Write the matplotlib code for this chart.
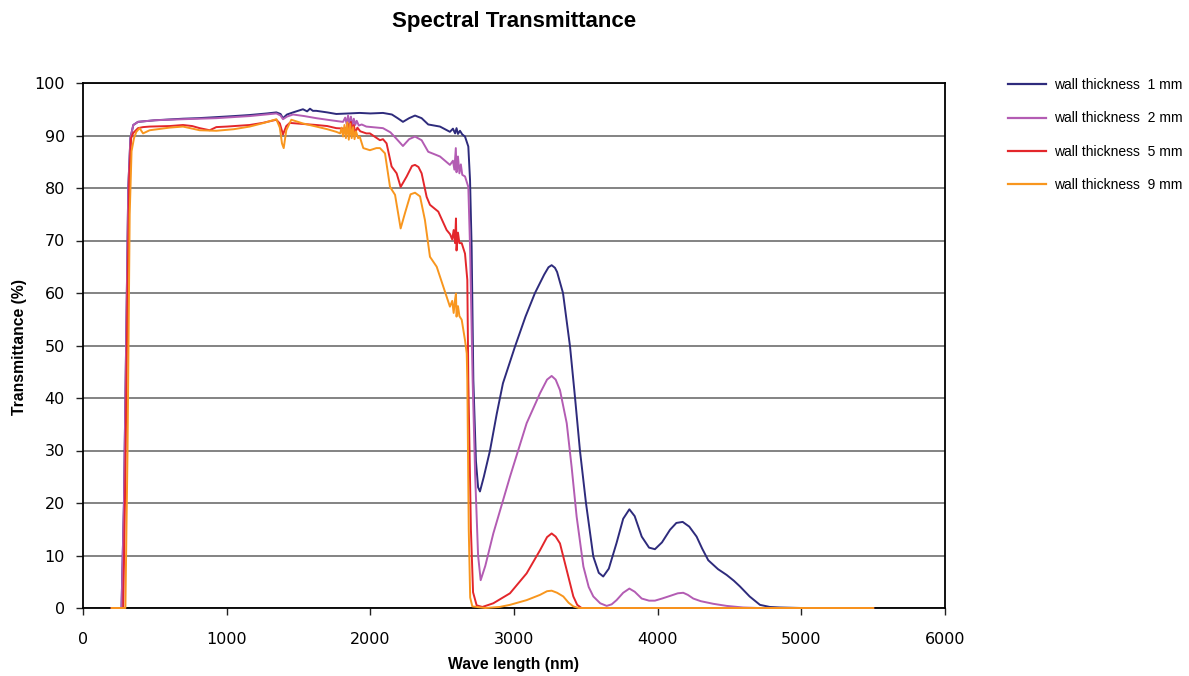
import matplotlib
matplotlib.use("Agg")
import matplotlib.pyplot as plt

# ---------------- data ----------------
series_labels = ["wall thickness  1 mm", "wall thickness  2 mm",
                 "wall thickness  5 mm", "wall thickness  9 mm"]
series_colors = ["#2e2b7c", "#b35cb3", "#e3262b", "#f8961e"]

wl_1mm = [200, 268, 285, 300, 315, 330, 350, 383, 500, 696, 800, 928, 1050, 1160, 1280, 1346,
          1375, 1392, 1420, 1462, 1531, 1560, 1580, 1600, 1624, 1700, 1763, 1850, 1926, 2000,
          2088, 2150, 2190, 2227, 2270, 2311, 2357, 2403, 2485, 2554, 2575, 2590, 2600, 2610,
          2624, 2640, 2659, 2682, 2694, 2705, 2717, 2735, 2750, 2763, 2790, 2833, 2880, 2923,
          3007, 3080, 3146, 3210, 3240, 3262, 3285, 3300, 3341, 3390, 3424, 3459, 3501, 3552,
          3590, 3621, 3660, 3714, 3760, 3803, 3840, 3889, 3940, 3981, 4030, 4086, 4130, 4174,
          4220, 4271, 4310, 4352, 4420, 4480, 4530, 4573, 4640, 4712, 4780, 4851, 5000, 5500]
t_1mm = [0, 0, 20, 50, 80, 89.5, 92, 92.6, 92.9, 93.2, 93.3, 93.5, 93.7, 93.9, 94.2, 94.4,
         94.1, 93.3, 94.0, 94.4, 95.0, 94.6, 95.1, 94.7, 94.7, 94.4, 94.1, 94.2, 94.3, 94.2,
         94.3, 94.0, 93.3, 92.6, 93.3, 93.8, 93.3, 92.1, 91.7, 90.7, 91.3, 90.4, 91.4, 90.3,
         90.9, 90.2, 89.8, 87.9, 81.5, 68.8, 43.4, 28, 23, 22.2, 25, 30, 37, 42.8,
         49.8, 55.5, 60, 63.5, 64.9, 65.3, 64.8, 64, 60, 49.8, 40.3, 30, 20, 9.8,
         6.7, 6.0, 7.5, 12.4, 17, 18.8, 17.5, 13.6, 11.5, 11.2, 12.5, 14.9, 16.2, 16.4,
         15.5, 13.6, 11.3, 9.1, 7.4, 6.3, 5.2, 4.1, 2.2, 0.6, 0.2, 0.1, 0, 0]

wl_2mm = [200, 268, 285, 300, 315, 330, 350, 383, 500, 696, 928, 1160, 1346, 1375, 1392, 1420,
          1462, 1540, 1624, 1700, 1780, 1810, 1825, 1835, 1845, 1855, 1865, 1875, 1885, 1895,
          1905, 1920, 1940, 1972, 2088, 2140, 2181, 2227, 2270, 2311, 2357, 2403, 2440, 2485,
          2554, 2575, 2585, 2595, 2600, 2610, 2620, 2630, 2640, 2659, 2682, 2694, 2712, 2730,
          2750, 2768, 2800, 2856, 2972, 3088, 3181, 3230, 3262, 3290, 3320, 3367, 3401, 3436,
          3483, 3520, 3552, 3600, 3645, 3680, 3714, 3760, 3803, 3840, 3889, 3940, 3981, 4030,
          4086, 4140, 4178, 4210, 4248, 4300, 4387, 4480, 4594, 4700, 5500]
t_2mm = [0, 0, 20, 50, 80, 89.5, 92, 92.6, 92.9, 93.1, 93.3, 93.7, 94.2, 93.8, 93.1, 93.6,
         94.0, 93.7, 93.3, 93.0, 92.7, 92.6, 93.4, 92.2, 93.8, 92.0, 93.6, 91.8, 93.2, 92.0,
         92.8, 91.9, 92.1, 91.7, 91.4, 90.6, 89.4, 88.0, 89.3, 89.8, 89.1, 86.9, 86.5, 86.0,
         84.4, 85.2, 83.5, 87.6, 83.0, 86.0, 82.8, 84.5, 82.5, 82.2, 80.2, 68.8, 43.4, 25,
         10, 5.3, 8, 14.2, 25, 35.2, 40.9, 43.5, 44.2, 43.5, 41.5, 35.2, 26.9, 17.4,
         7.9, 4.0, 2.2, 0.9, 0.4, 0.7, 1.5, 2.9, 3.7, 3.1, 1.8, 1.4, 1.4, 1.8,
         2.3, 2.8, 2.9, 2.5, 1.8, 1.3, 0.8, 0.4, 0.1, 0, 0]

wl_5mm = [200, 280, 295, 310, 322, 335, 350, 383, 418, 464, 603, 696, 760, 812, 882, 928, 1000,
          1160, 1250, 1346, 1370, 1392, 1415, 1439, 1530, 1624, 1700, 1763, 1830, 1845, 1855,
          1865, 1875, 1885, 1895, 1910, 1930, 1972, 1997, 2067, 2088, 2113, 2148, 2183, 2211,
          2253, 2290, 2311, 2335, 2357, 2392, 2415, 2473, 2531, 2555, 2570, 2580, 2590, 2596,
          2600, 2610, 2620, 2636, 2659, 2675, 2682, 2700, 2715, 2740, 2780, 2856, 2972, 3088,
          3181, 3230, 3262, 3290, 3320, 3367, 3413, 3440, 3470, 5500]
t_5mm = [0, 0, 25, 60, 82, 89.5, 90.5, 91.4, 91.6, 91.7, 91.8, 92.0, 91.8, 91.4, 91.0, 91.6, 91.7,
         92.0, 92.4, 93.0, 92.3, 90.2, 91.8, 92.4, 92.2, 92.0, 91.8, 91.4, 91.3, 92.2, 90.6,
         92.6, 90.8, 92.0, 90.5, 91.5, 90.8, 90.4, 90.4, 89.1, 89.3, 88.5, 84.1, 82.8, 80.2,
         82.2, 84.2, 84.4, 84.0, 82.8, 78.3, 76.8, 75.5, 72.0, 71.2, 70.2, 72.0, 69.5, 74.2,
         68.1, 71.5, 69.5, 69.5, 67.5, 62.5, 43.4, 15, 3, 0.5, 0.2, 0.9, 2.8, 6.6,
         11.0, 13.5, 14.2, 13.6, 12.3, 7.2, 2.2, 0.6, 0, 0]

wl_9mm = [200, 295, 310, 325, 338, 355, 371, 394, 418, 464, 603, 696, 812, 928, 1050, 1160, 1260,
          1346, 1370, 1385, 1397, 1415, 1450, 1530, 1624, 1700, 1763, 1790, 1800, 1810, 1820,
          1830, 1840, 1850, 1860, 1870, 1880, 1890, 1900, 1915, 1926, 1951, 1997, 2042, 2067,
          2102, 2137, 2172, 2211, 2241, 2280, 2311, 2346, 2380, 2415, 2462, 2508, 2554, 2570,
          2580, 2590, 2596, 2600, 2610, 2620, 2636, 2659, 2671, 2675, 2685, 2695, 2710, 2800,
          2900, 2972, 3088, 3181, 3230, 3262, 3300, 3343, 3380, 3413, 3450, 5500]
t_9mm = [0, 0, 30, 75, 87, 89.5, 90.7, 91.4, 90.4, 91.0, 91.5, 91.7, 91.0, 90.9, 91.2, 91.7, 92.4,
         93.1, 91.5, 88.5, 87.6, 91.0, 93.0, 92.3, 91.7, 91.2, 90.7, 90.4, 91.5, 89.8, 92.0,
         89.5, 92.5, 89.2, 92.2, 89.5, 91.6, 89.3, 90.8, 89.5, 89.8, 87.6, 87.2, 87.6, 87.6,
         86.6, 80.2, 78.7, 72.3, 75.2, 78.8, 79.1, 78.4, 73.9, 66.9, 65.0, 61.2, 57.4, 58.5,
         56.2, 58.8, 59.9, 55.5, 57.5, 55.6, 54.9, 51.0, 48.5, 43.4, 15, 2, 0.3, 0,
         0.2, 0.6, 1.5, 2.5, 3.2, 3.3, 2.9, 2.2, 1.0, 0.3, 0, 0]

x_ticks = [0, 1000, 2000, 3000, 4000, 5000, 6000]
y_ticks = [0, 10, 20, 30, 40, 50, 60, 70, 80, 90, 100]

title_text = "Spectral Transmittance"
x_label = "Wave length (nm)"
y_label = "Transmittance (%)"

# ---------------- figure ----------------
W, H = 1189, 676
fig = plt.figure(figsize=(W / 100, H / 100), dpi=100)
ax = fig.add_axes([83 / W, 1 - 608 / H, (945 - 83) / W, (608 - 83) / H])

all_x = [wl_1mm, wl_2mm, wl_5mm, wl_9mm]
all_y = [t_1mm, t_2mm, t_5mm, t_9mm]
for xs, ys, c, lab in zip(all_x, all_y, series_colors, series_labels):
    ax.plot(xs, ys, color=c, lw=1.4, label=lab, clip_on=False, zorder=3)

ax.set_xlim(0, 6000)
ax.set_ylim(0, 100)
ax.set_xticks(x_ticks)
ax.set_yticks(y_ticks)
ax.yaxis.grid(True, color="#7a7a7a", lw=1.3, zorder=1)
ax.set_axisbelow(True)
for s in ax.spines.values():
    s.set_color("black")
    s.set_linewidth(1.3)

ax.tick_params(axis="x", direction="out", length=5, width=1, pad=12,
               labelsize=11.5, colors="#222222")
ax.tick_params(axis="y", direction="out", length=5, width=1, pad=8,
               labelsize=11.5, colors="#222222")
for lab in ax.get_xticklabels() + ax.get_yticklabels():
    lab.set_color("black")

fig.text(514 / W, 1 - 22 / H, title_text, ha="center", va="center",
         fontsize=16, fontweight="bold", family="Liberation Sans")
fig.text(514 / W, 1 - 665 / H, x_label, ha="center", va="center",
         fontsize=11.3, fontweight="bold", family="Liberation Sans")
fig.text(20 / W, 1 - 347 / H, y_label, ha="center", va="center", rotation=90,
         fontsize=11.3, fontweight="bold", family="Liberation Sans")

leg = fig.legend(loc="upper left", bbox_to_anchor=(1008 / W, 1 - 78 / H),
                 frameon=False, borderpad=0, borderaxespad=0,
                 handlelength=2.75, handletextpad=0.55, labelspacing=1.4,
                 prop={"family": "Liberation Sans", "size": 10})
for h in leg.get_lines():
    h.set_linewidth(1.6)

fig.savefig("out.png", dpi=100)
